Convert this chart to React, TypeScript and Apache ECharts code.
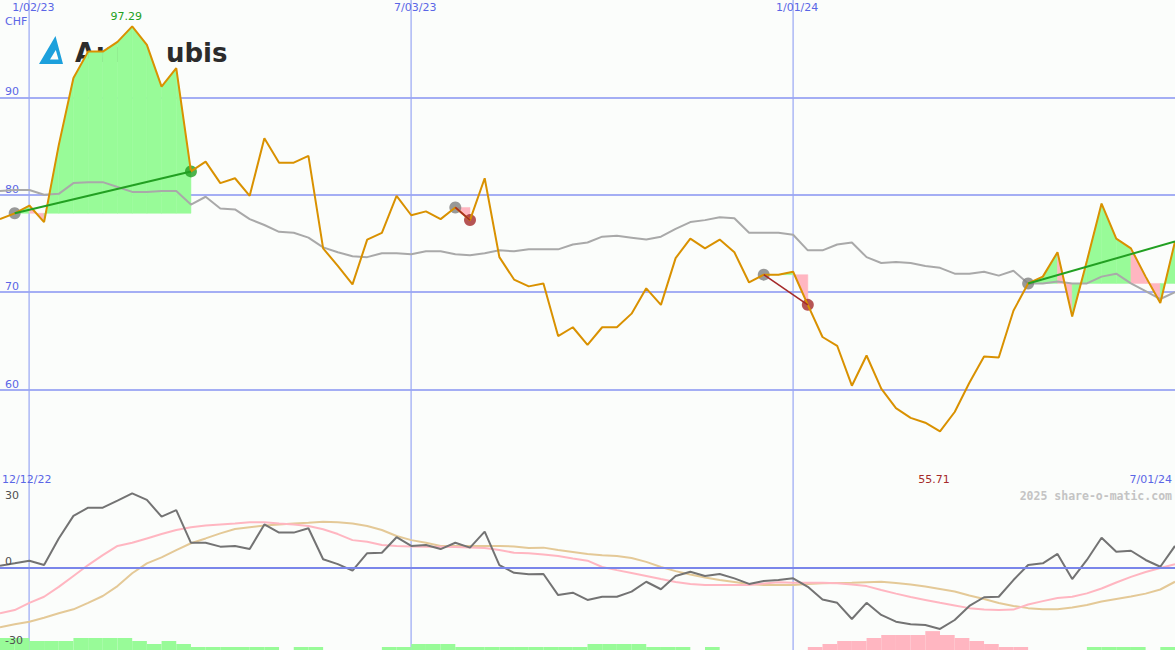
import React, { useEffect, useRef } from "react";
import * as echarts from "echarts";

// ---------- data ----------
const DATES = [
  "12/19/22", "12/26/22", "1/02/23", "1/09/23", "1/16/23", "1/23/23", "1/30/23", "2/06/23", "2/13/23", "2/20/23",
  "2/27/23", "3/06/23", "3/13/23", "3/20/23", "3/27/23", "4/03/23", "4/10/23", "4/17/23", "4/24/23", "5/01/23",
  "5/08/23", "5/15/23", "5/22/23", "5/29/23", "6/05/23", "6/12/23", "6/19/23", "6/26/23", "7/03/23", "7/10/23",
  "7/17/23", "7/24/23", "7/31/23", "8/07/23", "8/14/23", "8/21/23", "8/28/23", "9/04/23", "9/11/23", "9/18/23",
  "9/25/23", "10/02/23", "10/09/23", "10/16/23", "10/23/23", "10/30/23", "11/06/23", "11/13/23", "11/20/23", "11/27/23",
  "12/04/23", "12/11/23", "12/18/23", "12/25/23", "1/01/24", "1/08/24", "1/15/24", "1/22/24", "1/29/24", "2/05/24",
  "2/12/24", "2/19/24", "2/26/24", "3/04/24", "3/11/24", "3/18/24", "3/25/24", "4/01/24", "4/08/24", "4/15/24",
  "4/22/24", "4/29/24", "5/06/24", "5/13/24", "5/20/24", "5/27/24", "6/03/24", "6/10/24", "6/17/24", "6/24/24",
  "7/01/24",
];

const PRICE = [
  77.5, 78.1, 78.9, 77.2, 85.1, 92.0, 94.7, 94.7, 95.7, 97.29,
  95.4, 91.1, 93.0, 82.4, 83.4, 81.2, 81.7, 79.9, 85.8, 83.3,
  83.3, 84.0, 74.5, 72.7, 70.8, 75.4, 76.1, 79.9, 77.9, 78.3,
  77.5, 78.7, 77.4, 81.7, 73.6, 71.3, 70.6, 70.9, 65.5, 66.4,
  64.6, 66.4, 66.4, 67.8, 70.4, 68.7, 73.5, 75.5, 74.5, 75.4,
  74.1, 71.0, 71.8, 71.8, 72.1, 68.7, 65.4, 64.5, 60.4, 63.5,
  60.1, 58.1, 57.1, 56.6, 55.71, 57.7, 60.7, 63.4, 63.3, 68.1,
  70.9, 71.6, 74.1, 67.5, 73.2, 79.1, 75.5, 74.5, 71.6, 68.9, 75.2,
];

const AVERAGE = [
  80.4, 80.5, 80.5, 80.0, 80.1, 81.2, 81.3, 81.3, 80.8, 80.3,
  80.3, 80.4, 80.4, 79.0, 79.8, 78.6, 78.5, 77.5, 76.9, 76.2,
  76.1, 75.6, 74.6, 74.1, 73.7, 73.6, 74.0, 74.0, 73.9, 74.2,
  74.2, 73.9, 73.8, 74.0, 74.3, 74.2, 74.4, 74.4, 74.4, 74.9,
  75.1, 75.7, 75.8, 75.6, 75.4, 75.7, 76.5, 77.2, 77.4, 77.7,
  77.6, 76.1, 76.1, 76.1, 75.9, 74.3, 74.3, 74.9, 75.1, 73.6,
  73.0, 73.1, 73.0, 72.7, 72.5, 71.9, 71.9, 72.1, 71.7, 72.2,
  70.9, 70.9, 71.1, 70.9, 70.9, 71.6, 71.9, 70.9, 70.1, 69.3, 70.0,
];

const OSC = [
  0.8, 1.8, 2.9, 1.1, 12.1, 21.4, 24.8, 24.8, 27.7, 30.7,
  28.0, 21.1, 23.8, 10.3, 10.3, 8.7, 9.0, 7.7, 17.9, 14.5,
  14.5, 16.3, 3.5, 1.5, -1.2, 6.0, 6.2, 12.6, 9.0, 9.4,
  7.7, 10.3, 8.3, 14.9, 1.1, -2.1, -2.7, -2.6, -11.3, -10.3,
  -13.3, -12.0, -12.0, -9.9, -5.8, -8.9, -3.4, -1.7, -3.4, -2.6,
  -4.4, -6.7, -5.5, -5.1, -4.4, -7.9, -13.1, -14.5, -21.2, -14.5,
  -19.5, -22.3, -23.4, -23.7, -25.3, -21.6, -15.8, -12.2, -12.0, -5.1,
  1.1, 1.8, 5.7, -4.7, 3.2, 12.4, 6.6, 7.0, 3.2, 0.4, 9.0,
];

const OSC_FAST = [
  -18.8, -17.5, -14.5, -12.0, -7.9, -3.4, 1.1, 5.2, 9.0, 10.3,
  12.1, 13.9, 15.6, 16.7, 17.4, 17.9, 18.3, 18.8, 18.8, 18.3,
  17.9, 17.2, 15.9, 13.9, 11.4, 10.7, 9.4, 9.0, 8.8, 8.7,
  8.7, 8.6, 8.4, 8.1, 7.3, 6.2, 6.0, 5.5, 4.8, 3.8,
  2.9, 0.3, -1.0, -2.2, -3.4, -4.7, -5.9, -6.7, -7.1, -7.1,
  -7.1, -7.1, -6.5, -6.0, -6.2, -6.2, -6.2, -6.4, -6.9, -7.6,
  -9.2, -10.7, -12.1, -13.3, -14.5, -15.6, -16.7, -17.3, -17.5, -17.3,
  -15.2, -13.8, -12.5, -12.0, -10.6, -8.6, -6.1, -3.8, -1.8, -0.1, 1.4,
];

const OSC_SLOW = [
  -24.6, -23.4, -22.3, -20.7, -18.8, -17.2, -14.5, -11.7, -7.6, -2.3,
  1.8, 4.3, 7.3, 10.1, 12.1, 14.2, 16.0, 16.7, 17.4, 17.9,
  18.3, 18.6, 19.0, 18.8, 18.3, 17.2, 15.6, 13.1, 11.4, 10.3,
  9.0, 9.0, 9.0, 9.0, 9.0, 8.8, 8.1, 8.3, 7.3, 6.5,
  5.7, 5.2, 4.8, 4.0, 2.4, 0.3, -1.4, -2.8, -4.0, -5.1,
  -5.9, -6.7, -7.1, -7.1, -7.1, -6.7, -6.4, -6.3, -6.2, -6.0,
  -5.8, -6.3, -6.9, -7.8, -8.8, -9.8, -11.5, -12.9, -14.6, -15.8,
  -16.7, -17.2, -17.2, -16.4, -15.4, -14.0, -12.9, -11.9, -10.7, -9.0, -5.8,
];

// histogram levels (positive = green, negative = pink)
const HIST = [
  4, 4, 3, 3, 3, 4, 4, 4, 4, 3,
  2, 3, 2, 1, 1, 1, 1, 1, 1, 0,
  1, 1, 0, 0, 0, 0, 1, 1, 2, 2,
  2, 1, 1, 1, 1, 1, 1, 1, 1, 1,
  2, 2, 2, 2, 1, 1, 1, 0, 1, 0,
  0, 0, 0, 0, 0, -1, -2, -3, -3, -4,
  -5, -5, -5, -6.3, -5, -4, -3, -2, -1, -1,
  0, 0, 0, 0, 1, 1, 1, 1, 0, 1, 0,
];

const TREND_STARTS = [1, 31, 52, 70];
const TREND_ENDS = [13, 32, 55, 80];
const MARK_IDX = [2, 28, 54];
const PRICE_TICKS = [60, 70, 80, 90];
const OSC_TICKS = [30, 0, -30];
const START_LABEL = "12/12/22";
const CURRENCY = "CHF";
const WATERMARK = "2025 share-o-matic.com";

// ---------- styles ----------
const FONT = "DejaVu Sans";
const BG = "#fbfdfb";
const BLUE_TXT = "#5a66e6";
const HGRID = "#a4aef4";
const VGRID = "#98a6f4";
const SEP = "#7a86ea";
const ORANGE = "#d99100";
const MA_GRAY = "#a9a9a9";
const GREEN_FILL = "#98fb98";
const PINK_FILL = "#ffb6c1";
const GREEN_LINE = "#22a022";
const BROWN = "#a52a2a";
const MARK_GRAY = "#808080";
const OSC_GRAY = "#737373";
const TAN = "#e4c997";
const LOGO_BLUE = "#1ca0dc";
const LOGO_TEXT = "#2b2b2b";

let logoRegistered = false;
function registerLogo() {
  if (logoRegistered) return;
  const d = "M39 64 L55.5 36 L63 64 Z M50 59.5 L58.5 59.5 L55.8 50 Z";
  echarts.graphic.registerShape("aurubisLogo", echarts.graphic.extendPath(d, {}) as any);
  logoRegistered = true;
}

export default function App() {
  const ref = useRef<HTMLDivElement>(null);

  useEffect(() => {
    document.body.style.margin = "0";
    registerLogo();
    const chart = echarts.init(ref.current!, null, { renderer: "svg" });

    const last = DATES.length - 1;
    const isMark = (idx: number) => MARK_IDX.includes(idx);

    // fill quads between price and each signal's base level
    const fillData: number[][] = [];
    TREND_STARTS.forEach((s, k) => {
      const e = TREND_ENDS[k];
      const base = PRICE[s];
      const pe = PRICE[e];
      const rising = pe >= base;
      for (let i = s; i < e; i++) {
        const t = base + ((pe - base) * (i + 1 - s)) / (e - s);
        const diff = PRICE[i + 1] - t;
        const up = Math.abs(diff) < 1e-9 ? rising : diff > 0;
        fillData.push([i, PRICE[i], PRICE[i + 1], base, up ? 1 : 0]);
      }
    });

    let maxIdx = 0;
    let minIdx = 0;
    PRICE.forEach((v, i) => {
      if (v > PRICE[maxIdx]) maxIdx = i;
      if (v < PRICE[minIdx]) minIdx = i;
    });

    const trendSeries = TREND_STARTS.map((s, k) => {
      const e = TREND_ENDS[k];
      const rising = PRICE[e] >= PRICE[s];
      return {
        type: "line",
        xAxisIndex: 0,
        yAxisIndex: 0,
        data: [
          [s, PRICE[s]],
          [e, PRICE[e]],
        ],
        showSymbol: false,
        silent: true,
        z: 6,
        lineStyle: { color: rising ? GREEN_LINE : BROWN, width: rising ? 2 : 1.6 },
      };
    });

    const endMarkers = TREND_ENDS.map((e, k) => ({ e, s: TREND_STARTS[k] }))
      .filter((o) => o.e < last)
      .map((o) => ({
        value: [o.e, PRICE[o.e]],
        itemStyle: { color: PRICE[o.e] >= PRICE[o.s] ? GREEN_LINE : BROWN },
      }));

    // vertical date guides, drawn as crisp rectangles through the axis scale
    const guideSeries = (xAxisIndex: number, yAxisIndex: number) => ({
      type: "custom",
      xAxisIndex,
      yAxisIndex,
      z: 0,
      silent: true,
      clip: false,
      data: MARK_IDX.map((i) => [i, 0]),
      renderItem: (params: any, api: any) => {
        const i = MARK_IDX[params.dataIndex];
        const x = Math.round(api.coord([i, 0])[0]);
        const cs = params.coordSys;
        return {
          type: "rect",
          shape: { x: x - 0.5, y: cs.y, width: 1.2, height: cs.height },
          style: { fill: VGRID },
        };
      },
    });

    const logoText = (text: string, x: number) => ({
      type: "text",
      x,
      y: 53,
      z: 0,
      silent: true,
      style: {
        text,
        fill: LOGO_TEXT,
        fontSize: 26,
        fontWeight: "bold",
        fontFamily: "DejaVu Sans",
        verticalAlign: "middle",
      },
    });

    const option: any = {
      animation: false,
      backgroundColor: BG,
      textStyle: { fontFamily: FONT },
      grid: [
        { left: 0, right: 0, top: 0, height: 487 },
        { left: 0, right: 0, top: 487, height: 163 },
      ],
      xAxis: [
        {
          type: "category",
          gridIndex: 0,
          data: DATES,
          boundaryGap: false,
          position: "top",
          axisLine: { show: false },
          axisTick: { show: false },
          axisLabel: {
            inside: true,
            interval: isMark,
            margin: 2,
            color: BLUE_TXT,
            fontSize: 11,
            fontFamily: FONT,
            padding: [0, 0, 0, 8],
          },
          splitLine: { show: false },
        },
        {
          type: "category",
          gridIndex: 1,
          data: DATES,
          boundaryGap: false,
          position: "top",
          z: 5,
          axisLine: { show: true, lineStyle: { color: SEP, width: 2 } },
          axisTick: { show: false },
          axisLabel: { show: false },
          splitLine: { show: false },
        },
      ],
      yAxis: [
        {
          type: "value",
          gridIndex: 0,
          position: "left",
          min: 50,
          max: 100,
          interval: 10,
          axisLine: { show: false },
          axisTick: { show: false },
          splitLine: {
            show: true,
            showMinLine: false,
            showMaxLine: false,
            lineStyle: { color: HGRID, width: 2 },
          },
          axisLabel: {
            inside: true,
            margin: 5,
            color: BLUE_TXT,
            fontSize: 11,
            fontFamily: FONT,
            verticalAlign: "bottom",
            formatter: (v: number) => (PRICE_TICKS.includes(v) ? String(v) : ""),
          },
        },
        {
          // zero line of the oscillator panel
          type: "value",
          gridIndex: 1,
          position: "left",
          min: -34,
          max: 33.35,
          interval: 34,
          axisLine: { show: false },
          axisTick: { show: false },
          axisLabel: { show: false },
          splitLine: {
            show: true,
            showMinLine: false,
            showMaxLine: false,
            lineStyle: { color: HGRID, width: 2 },
          },
        },
        {
          // histogram scale
          type: "value",
          gridIndex: 1,
          position: "left",
          min: 0,
          max: 163 / 3,
          show: false,
          splitLine: { show: false },
        },
        {
          // oscillator labels, drawn above the histogram
          type: "value",
          gridIndex: 1,
          position: "left",
          offset: 0,
          min: -34,
          max: 33.35,
          interval: 34,
          z: 10,
          axisLine: { show: false },
          axisTick: { show: false },
          splitLine: { show: false },
          axisLabel: {
            inside: true,
            margin: 5,
            customValues: OSC_TICKS,
            color: "#505050",
            fontSize: 11,
            fontFamily: FONT,
            verticalAlign: "middle",
            formatter: (v: number) => (v === 0 ? "{z|0}" : String(v)),
            rich: { z: { padding: [0, 0, 12, 0], fontSize: 11, color: "#505050", fontFamily: FONT } },
          },
        },
      ],
      series: [
        guideSeries(0, 0),
        guideSeries(1, 1),
        {
          type: "custom",
          name: "fill",
          xAxisIndex: 0,
          yAxisIndex: 0,
          z: 1,
          silent: true,
          clip: true,
          data: fillData.map((d) => [d[0], d[1]]),
          renderItem: (params: any, api: any) => {
            const [i, p0, p1, base, up] = fillData[params.dataIndex];
            const a = api.coord([i, p0]);
            const b = api.coord([i + 1, p1]);
            const c = api.coord([i + 1, base]);
            const d = api.coord([i, base]);
            const col = up ? GREEN_FILL : PINK_FILL;
            return {
              type: "polygon",
              shape: { points: [a, b, c, d] },
              style: { fill: col, stroke: col, lineWidth: 0.5 },
            };
          },
        },
        {
          type: "line",
          name: "average",
          xAxisIndex: 0,
          yAxisIndex: 0,
          data: AVERAGE,
          showSymbol: false,
          silent: true,
          z: 2,
          lineStyle: { color: MA_GRAY, width: 2 },
        },
        {
          type: "scatter",
          name: "start",
          xAxisIndex: 0,
          yAxisIndex: 0,
          data: TREND_STARTS.map((s) => [s, PRICE[s]]),
          symbolSize: 12,
          silent: true,
          z: 3,
          itemStyle: { color: MARK_GRAY },
        },
        {
          type: "scatter",
          name: "end",
          xAxisIndex: 0,
          yAxisIndex: 0,
          data: endMarkers,
          symbolSize: 12,
          silent: true,
          z: 3,
        },
        {
          type: "line",
          name: "price",
          xAxisIndex: 0,
          yAxisIndex: 0,
          data: PRICE,
          showSymbol: false,
          silent: true,
          z: 5,
          lineStyle: { color: ORANGE, width: 2 },
          markPoint: {
            symbol: "circle",
            symbolSize: 0,
            silent: true,
            label: {
              show: true,
              fontSize: 11,
              fontFamily: FONT,
              offset: [-6, 0],
              formatter: (p: any) => Number(p.value).toFixed(2),
            },
            data: [
              {
                coord: [DATES[maxIdx], PRICE[maxIdx]],
                value: PRICE[maxIdx],
                label: { color: GREEN_LINE, position: "top", distance: 4 },
              },
              {
                coord: [DATES[minIdx], 50],
                value: PRICE[minIdx],
                label: { color: BROWN, position: "top", distance: 2 },
              },
            ],
          },
        },
        ...trendSeries,
        {
          type: "line",
          name: "slow",
          xAxisIndex: 1,
          yAxisIndex: 1,
          data: OSC_SLOW,
          showSymbol: false,
          silent: true,
          z: 2,
          lineStyle: { color: TAN, width: 2 },
        },
        {
          type: "line",
          name: "fast",
          xAxisIndex: 1,
          yAxisIndex: 1,
          data: OSC_FAST,
          showSymbol: false,
          silent: true,
          z: 3,
          lineStyle: { color: PINK_FILL, width: 2 },
        },
        {
          type: "line",
          name: "oscillator",
          xAxisIndex: 1,
          yAxisIndex: 1,
          data: OSC,
          showSymbol: false,
          silent: true,
          z: 4,
          lineStyle: { color: OSC_GRAY, width: 2 },
        },
        {
          type: "custom",
          name: "histogram",
          xAxisIndex: 1,
          yAxisIndex: 2,
          z: 1,
          silent: true,
          clip: true,
          data: HIST.map((v, i) => [i, Math.abs(v)]),
          renderItem: (params: any, api: any) => {
            const i = params.dataIndex;
            const v = HIST[i];
            if (!v) return null;
            const p0 = api.coord([i, 0]);
            const p1 = api.coord([i + 1, Math.abs(v)]);
            return {
              type: "rect",
              shape: { x: p0[0], y: p1[1], width: p1[0] - p0[0], height: p0[1] - p1[1] },
              style: { fill: v > 0 ? GREEN_FILL : PINK_FILL },
            };
          },
        },
      ],
      graphic: [
        {
          type: "aurubisLogo",
          x: 0,
          y: 0,
          z: 0,
          silent: true,
          style: { fill: LOGO_BLUE },
        },
        logoText("A", 75),
        logoText("ur", 96),
        logoText("ubis", 166),
        {
          type: "text",
          x: 5,
          y: 21,
          z: 10,
          silent: true,
          style: { text: CURRENCY, fill: BLUE_TXT, fontSize: 11, fontFamily: FONT, verticalAlign: "middle" },
        },
        {
          type: "text",
          x: 2,
          y: 479,
          z: 10,
          silent: true,
          style: { text: START_LABEL, fill: BLUE_TXT, fontSize: 11, fontFamily: FONT, verticalAlign: "middle" },
        },
        {
          type: "text",
          x: 1172,
          y: 479,
          z: 10,
          silent: true,
          style: { text: DATES[last], fill: BLUE_TXT, fontSize: 11, fontFamily: FONT, verticalAlign: "middle", align: "right" },
        },
        {
          type: "text",
          x: 1172,
          y: 496,
          z: 10,
          silent: true,
          style: {
            text: WATERMARK,
            fill: "#c4c4c4",
            fontSize: 11.5,
            fontWeight: "bold",
            fontFamily: "DejaVu Sans Mono",
            verticalAlign: "middle",
            align: "right",
          },
        },
      ],
    };

    chart.setOption(option);
    return () => chart.dispose();
  }, []);

  return <div ref={ref} style={{ position: "fixed", left: 0, top: 0, width: 1175, height: 650 }} />;
}
